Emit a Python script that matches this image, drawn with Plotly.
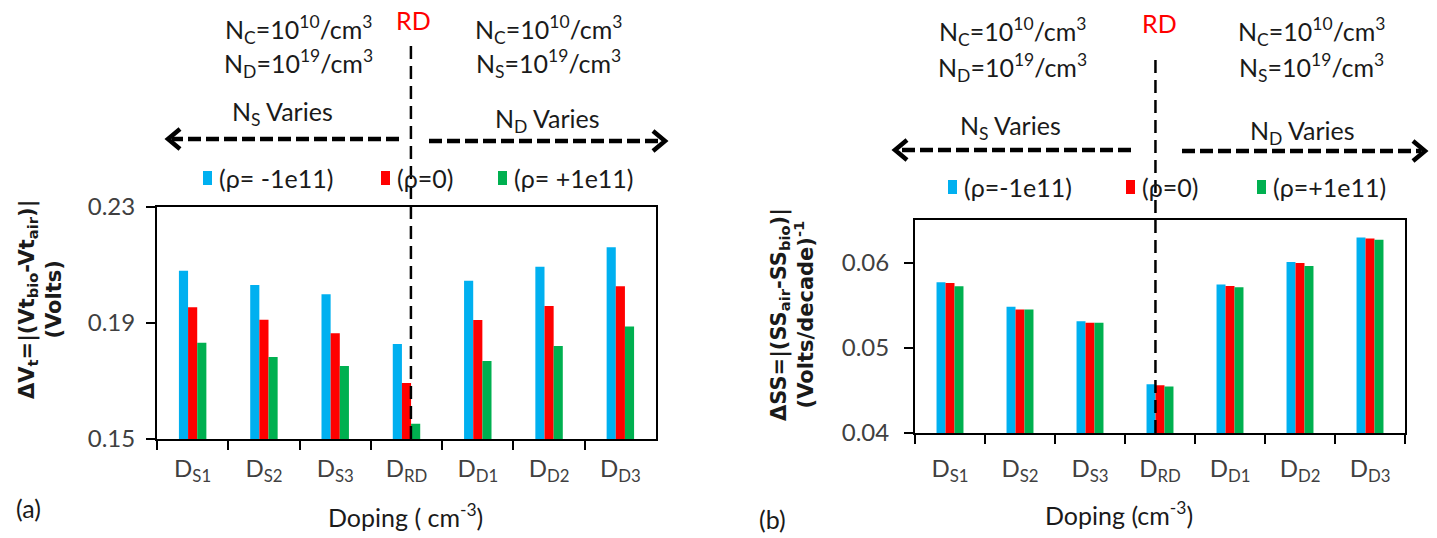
import plotly.graph_objects as go

W, H = 1437, 538

# ---------------- data ----------------
categories = ["DS1", "DS2", "DS3", "DRD", "DD1", "DD2", "DD3"]
tick_labels = ["D<sub>S1</sub>", "D<sub>S2</sub>", "D<sub>S3</sub>", "D<sub>RD</sub>",
               "D<sub>D1</sub>", "D<sub>D2</sub>", "D<sub>D3</sub>"]
series_names = ["ρ = -1e11", "ρ = 0", "ρ = +1e11"]
legend_text_a = ["(ρ= -1e11)", "(ρ=0)", "(ρ= +1e11)"]
legend_text_b = ["(ρ=-1e11)", "(ρ=0)", "(ρ=+1e11)"]
colors = ["#00B0F0", "#FF0000", "#00B050"]

# (a) threshold-voltage shift, Volts
dvt_neg = [0.2080, 0.2031, 0.1999, 0.1828, 0.2046, 0.2094, 0.2161]
dvt_zero = [0.1954, 0.1911, 0.1865, 0.1693, 0.1910, 0.1959, 0.2027]
dvt_pos = [0.1832, 0.1783, 0.1752, 0.1553, 0.1769, 0.1821, 0.1888]

# (b) subthreshold-swing shift, (Volts/decade)^-1
dss_neg = [0.05770, 0.05481, 0.05313, 0.04573, 0.05743, 0.06007, 0.06296]
dss_zero = [0.05761, 0.05450, 0.05294, 0.04561, 0.05726, 0.05995, 0.06284]
dss_pos = [0.05723, 0.05450, 0.05294, 0.04545, 0.05711, 0.05960, 0.06269]

a_values = [dvt_neg, dvt_zero, dvt_pos]
b_values = [dss_neg, dss_zero, dss_pos]


def px(x):
    return x / W


def py(y):
    return 1 - y / H


fig = go.Figure()
for name, col, ya in zip(series_names, colors, a_values):
    fig.add_trace(go.Bar(x=categories, y=ya, name=name, marker_color=col,
                         marker_line_width=0, xaxis="x", yaxis="y", showlegend=False))
for name, col, yb in zip(series_names, colors, b_values):
    fig.add_trace(go.Bar(x=categories, y=yb, name=name, marker_color=col,
                         marker_line_width=0, xaxis="x2", yaxis="y2", showlegend=False))

TICKFONT = dict(family="Lato", size=24, color="#404040")
TEXTFONT = dict(family="Lato", size=25, color="#1a1a1a")

common_x = dict(type="category", categoryorder="array", categoryarray=categories,
                tickvals=categories, ticktext=tick_labels, range=[-0.5, 6.5],
                ticks="outside", ticklen=9, tickwidth=2, tickcolor="black",
                tickson="boundaries", showline=True, linewidth=2, linecolor="black",
                mirror=True, showgrid=False, zeroline=False, tickfont=TICKFONT,
                automargin=False, fixedrange=True)
common_y = dict(ticks="outside", ticklen=9, tickwidth=2, tickcolor="black",
                showline=True, linewidth=2, linecolor="black", mirror=True,
                showgrid=False, zeroline=False, tickfont=TICKFONT, tickformat=".2f",
                automargin=False, fixedrange=True)

fig.update_layout(
    width=W, height=H,
    margin=dict(l=0, r=0, t=0, b=0),
    paper_bgcolor="white", plot_bgcolor="white",
    barmode="group", bargap=0.615, bargroupgap=0,
    showlegend=False,
    xaxis=dict(domain=[px(157), px(656)], anchor="y", ticklabelstandoff=7, **common_x),
    yaxis=dict(domain=[py(439), py(207)], anchor="x", range=[0.15, 0.23],
               tick0=0.15, dtick=0.04, ticklabelstandoff=6, **common_y),
    xaxis2=dict(domain=[px(915), px(1405)], anchor="y2", ticklabelstandoff=13, **common_x),
    yaxis2=dict(domain=[py(433), py(220)], anchor="x2", range=[0.04, 0.065],
                tick0=0.04, dtick=0.01, ticklabelstandoff=10, **common_y),
)

shapes = []
# vertical dashed RD lines
shapes.append(dict(type="line", xref="x", yref="paper", x0=3.062, x1=3.062,
                   y0=py(439), y1=py(40), line=dict(color="black", width=2.5, dash="13px,7px")))
shapes.append(dict(type="line", xref="x2", yref="paper", x0=2.935, x1=2.935,
                   y0=py(433), y1=py(57), line=dict(color="black", width=2.5, dash="13px,7px")))


def dashed_arrow(x_tail, x_head, y):
    d = 1 if x_head > x_tail else -1
    shapes.append(dict(type="line", xref="paper", yref="paper",
                       x0=px(x_tail), x1=px(x_head - d * 4), y0=py(y), y1=py(y),
                       line=dict(color="black", width=4.5, dash="13px,5px")))
    path = "M {},{} L {},{} L {},{}".format(px(x_head - d * 12), py(y - 10), px(x_head), py(y),
                                           px(x_head - d * 12), py(y + 10))
    shapes.append(dict(type="path", xref="paper", yref="paper", path=path,
                       line=dict(color="black", width=4.5)))


dashed_arrow(399, 168, 139)
dashed_arrow(429, 665, 141)
dashed_arrow(1131, 895, 150)
dashed_arrow(1182, 1425, 151)

annotations = []


def text(x, y, s, font=TEXTFONT, xanchor="center", **kw):
    annotations.append(dict(xref="paper", yref="paper", x=px(x), y=py(y), text=s,
                            showarrow=False, xanchor=xanchor, yanchor="middle",
                            font=font, **kw))


# legend (manual)
def legend(starts, labels, yc):
    for xs, lab, col in zip(starts, labels, colors):
        shapes.append(dict(type="rect", xref="paper", yref="paper",
                           x0=px(xs - 14), x1=px(xs - 5), y0=py(yc + 7), y1=py(yc - 7),
                           fillcolor=col, line=dict(width=0)))
        text(xs, yc, lab, xanchor="left")


legend([217, 395, 512], legend_text_a, 178)
legend([962, 1140, 1271], legend_text_b, 187)

# header annotations (a)
text(298, 29, "N<sub>C</sub>=10<sup>10</sup>/cm<sup>3</sup>")
text(298, 64, "N<sub>D</sub>=10<sup>19</sup>/cm<sup>3</sup>")
text(548, 29, "N<sub>C</sub>=10<sup>10</sup>/cm<sup>3</sup>")
text(548, 64, "N<sub>S</sub>=10<sup>19</sup>/cm<sup>3</sup>")
text(413, 20, "RD", font=dict(family="Lato", size=25, color="#FF0000"))
text(282, 113, "N<sub>S</sub> Varies")
text(547, 120, "N<sub>D</sub> Varies")

# header annotations (b)
text(1013, 31, "N<sub>C</sub>=10<sup>10</sup>/cm<sup>3</sup>")
text(1013, 68, "N<sub>D</sub>=10<sup>19</sup>/cm<sup>3</sup>")
text(1311, 31, "N<sub>C</sub>=10<sup>10</sup>/cm<sup>3</sup>")
text(1311, 68, "N<sub>S</sub>=10<sup>19</sup>/cm<sup>3</sup>")
text(1159, 23, "RD", font=dict(family="Lato", size=25, color="#FF0000"))
text(1010, 127, "N<sub>S</sub> Varies")
text(1302, 132, "N<sub>D</sub> Varies")

# axis titles
TITLEFONT = dict(family="DejaVu Sans", size=21, color="#1a1a1a")
text(40, 300, "<b>ΔV<sub>t</sub>=|(Vt<sub>bio</sub>-Vt<sub>air</sub>)|</b><br><b>(Volts)</b>",
     font=TITLEFONT, textangle=-90)
text(792, 315, "<b>ΔSS=|(SS<sub>air</sub>-SS<sub>bio</sub>)|</b><br><b>(Volts/decade)<sup>-1</sup></b>",
     font=TITLEFONT, textangle=-90)
text(405, 515, "Doping ( cm<sup>-3</sup>)")
text(1119, 513, "Doping (cm<sup>-3</sup>)")
text(28, 508, "(a)")
text(773, 519, "(b)")

fig.update_layout(shapes=shapes, annotations=annotations)
fig.write_html("out.html")
